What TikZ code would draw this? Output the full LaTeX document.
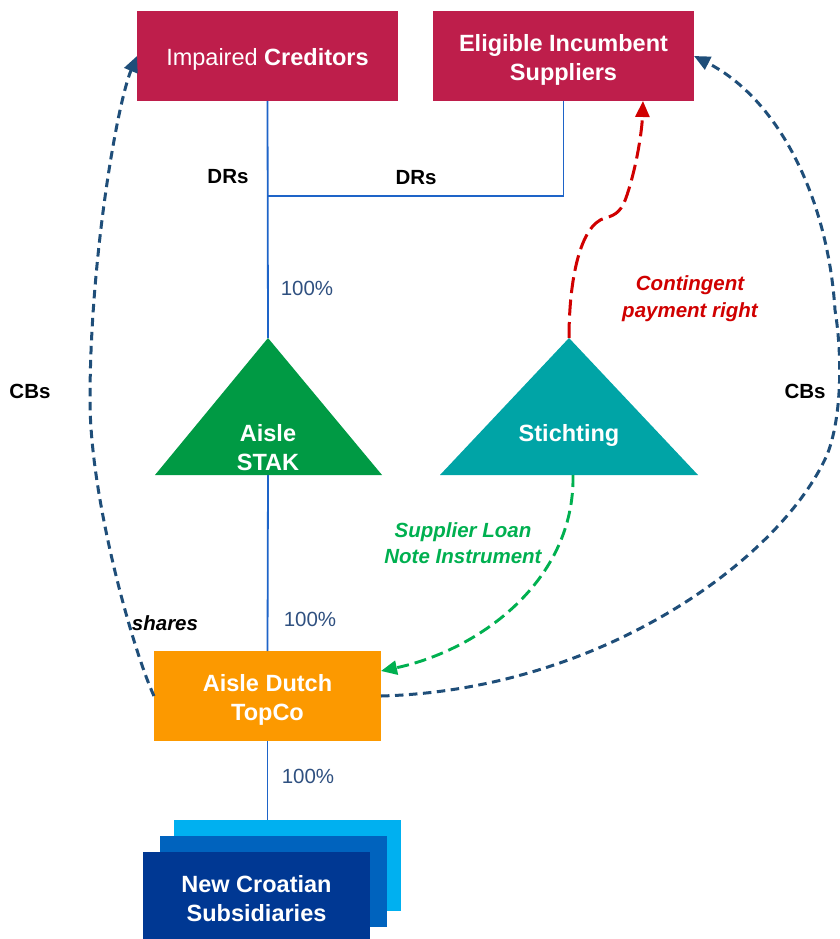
\documentclass[tikz,border=0pt]{standalone}
\usepackage{fontspec}
\setmainfont{Liberation Sans}
\usetikzlibrary{arrows.meta}

\definecolor{crimson}{RGB}{190,30,75}
\definecolor{stakgreen}{RGB}{0,154,68}
\definecolor{teal}{RGB}{0,164,166}
\definecolor{topcoorange}{RGB}{252,153,0}
\definecolor{subfront}{RGB}{0,56,147}
\definecolor{submid}{RGB}{0,99,190}
\definecolor{subback}{RGB}{0,176,240}
\definecolor{ownline}{RGB}{30,100,200}
\definecolor{pcttext}{RGB}{47,80,128}
\definecolor{cbnavy}{RGB}{31,78,121}
\definecolor{cpred}{RGB}{208,0,0}
\definecolor{slngreen}{RGB}{0,176,80}

\tikzset{
  entity/.style={inner sep=0pt, outer sep=0pt, text=white, align=center,
    font=\fontsize{23.5}{29}\selectfont\bfseries},
  shapebox/.style={inner sep=0pt, outer sep=0pt},
  crimsonbox/.style={shapebox, fill=crimson, minimum width=261pt, minimum height=90pt},
  topcobox/.style={shapebox, fill=topcoorange, minimum width=227pt, minimum height=90pt},
  subbox/.style={shapebox, minimum width=227pt, minimum height=91pt},
  own/.style={draw=ownline, line width=1.8pt},
  pct/.style={text=pcttext, font=\fontsize{20.5}{24}\selectfont},
  lbl/.style={font=\fontsize{20.5}{24}\selectfont\bfseries},
  tip/.style={-{Triangle[length=16pt,width=14pt]}},
  cbs/.style={tip, draw=cbnavy, line width=3pt, dash pattern=on 8.5pt off 5.5pt},
  cpr/.style={tip, draw=cpred, line width=3pt, dash pattern=on 16pt off 6.5pt},
  sln/.style={tip, draw=slngreen, line width=2.9pt, dash pattern=on 12pt off 6pt},
}

\begin{document}
\begin{tikzpicture}[x=1pt, y=-1pt]
\useasboundingbox (0,0) rectangle (839,939);

% top holders
\node[crimsonbox] (ic) at (267.5,56) {};
\node[entity] (icText) at (267.5,59) {\mdseries Impaired \bfseries Creditors};
\node[crimsonbox] (eis) at (563.5,56) {};
\node[entity] (eisText) at (563.5,60) {Eligible Incumbent\\Suppliers};

% trust triangles
\coordinate (stakTop) at (268,338);
\coordinate (stakBot) at (268,475);
\coordinate (stichTop) at (569,338);
\coordinate (stichBot) at (573,475);
\fill[stakgreen] (stakTop) -- (382,475) -- (155,475) -- cycle;
\fill[teal] (stichTop) -- (698,475) -- (440,475) -- cycle;
\node[entity] (stak) at (268,448) {Aisle\\STAK};
\node[entity] (stich) at (569,435) {Stichting};

% Dutch TopCo
\node[topcobox] (topco) at (267.5,696) {};
\node[entity] (topcoText) at (267.5,700) {Aisle Dutch\\TopCo};

% stacked subsidiaries
\node[subbox, fill=subback] (subsC) at (287.5,865.5) {};
\node[subbox, fill=submid] (subsB) at (273.5,881.5) {};
\node[subbox, fill=subfront, minimum height=87pt] (subsA) at (256.5,895.5) {};
\node[entity] (subsText) at (256.5,898.5) {New Croatian\\Subsidiaries};

% ownership lines
\coordinate (drJoin) at (268,196);
\draw[own] (ic.south) -- (stakTop);
\draw[own] (eis.south) |- (drJoin);
\draw[own] (stakBot) -- (topco.north);
\draw[own] (topco.south) -- (subsC.north -| topco.south);

% labels on ownership lines
\node[lbl] (drA) at (228,177) {DRs};
\node[lbl] (drB) at (416,178) {DRs};
\node[pct] (pA) at (307,288) {100\%};
\node[pct] (pB) at (310,619) {100\%};
\node[pct] (pC) at (308,776) {100\%};

% CBs to impaired creditors
\draw[cbs] (topco.west) .. controls (134,653) and (90,500) .. (90,400)
  .. controls (90,260) and (117,104) .. (ic.west);
\node[lbl] (cbL) at (30,391) {CBs};
\node[lbl, font=\fontsize{20.5}{24}\selectfont\bfseries\itshape] (shares) at (165,623) {shares};

% CBs to eligible incumbent suppliers
\draw[cbs] (topco.east) .. controls (600,690) and (780,560) .. (827,455)
  .. controls (841,420) and (843,360) .. (835,310)
  .. controls (828,200) and (780,100) .. (eis.east);
\node[lbl] (cbR) at (805,391) {CBs};

% contingent payment right
\coordinate (cprEnd) at (643,101);
\draw[cpr] (stichTop) .. controls (569,280) and (580,225) .. (605,218)
  .. controls (617,215) and (622,210) .. (627,195)
  .. controls (637,165) and (642,130) .. (cprEnd);
\node[lbl, text=cpred, align=center, font=\fontsize{20.5}{26.5}\selectfont\bfseries\itshape]
  (cprLbl) at (690,298.5) {Contingent\\payment right};

% supplier loan note instrument
\coordinate (slnEnd) at (381,671);
\draw[sln] (stichBot) .. controls (575,580) and (480,650) .. (slnEnd);
\node[lbl, text=slngreen, align=center, font=\fontsize{20.5}{26.5}\selectfont\bfseries\itshape]
  (slnLbl) at (463,543) {Supplier Loan\\Note Instrument};
\end{tikzpicture}
\end{document}
